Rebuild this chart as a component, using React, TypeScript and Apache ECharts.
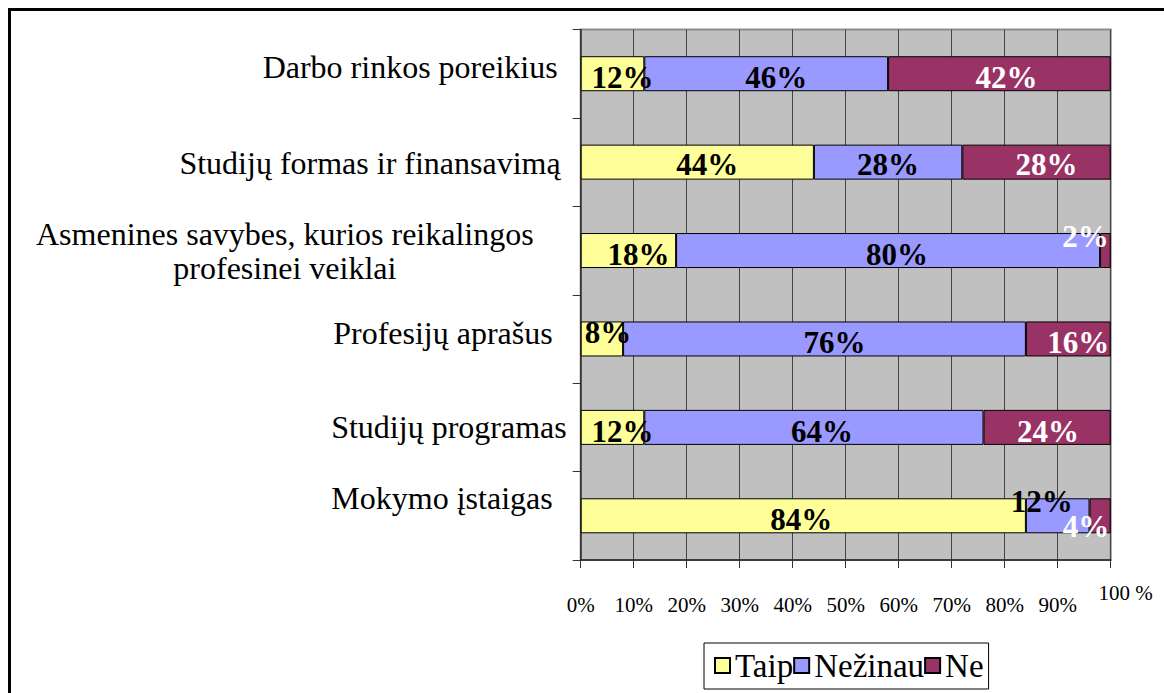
import React, { useEffect, useRef } from "react";
import * as echarts from "echarts";

const categories = [
  "Darbo rinkos poreikius",
  "Studijų formas ir finansavimą",
  "Asmenines savybes, kurios reikalingos\nprofesinei veiklai",
  "Profesijų aprašus",
  "Studijų programas",
  "Mokymo įstaigas",
];
const seriesNames = ["Taip", "Nežinau", "Ne"];
const taip = [12, 44, 18, 8, 12, 84];
const nezinau = [46, 28, 80, 76, 64, 12];
const ne = [42, 28, 2, 16, 24, 4];
const xTickLabels = ["0%", "10%", "20%", "30%", "40%", "50%", "60%", "70%", "80%", "90%", "100 %"];

// label styling (positions only, not data)
const taipLabelOffsets = [[10, 4], [10, 2], [10, 3.5], [6, -6.5], [10, 4], [-2, 4]];
const nezLabelOffsets = [[10, 4], [0, 2], [9, 3.5], [10, 4], [8, 4], [-16, -14]];
const neLabelOffsets = [[7, 4], [10, 2], [-20, -14.5], [10, 3.5], [1, 4], [-14, 11]];
// [top, right, bottom] padding for category labels
const catPads = [[0, 10, 13], [2, 7, 0], [0, 34, 0], [0, 15, 12], [0, 1, 0], [0, 15, 36]];

const FONT = "'Times New Roman', 'Liberation Serif', serif";
const COLORS = ["#FFFF99", "#9999FF", "#993366"];

export default function App() {
  const ref = useRef<HTMLDivElement>(null);
  useEffect(() => {
    if (!ref.current) return;
    const chart = echarts.init(ref.current, null, { renderer: "svg" });

    const rich: any = {};
    catPads.forEach((p, i) => {
      if (i === 2) {
        rich["c2"] = { fontSize: 32, fontFamily: FONT, color: "#000", lineHeight: 34, align: "center", padding: [p[0], p[1], p[2], 0] };
      } else {
        rich["c" + i] = { fontSize: 32, fontFamily: FONT, color: "#000", lineHeight: 34, padding: [p[0], p[1], p[2], 0] };
      }
    });

    const mk = (vals: number[], offs: number[][], idx: number, labelColor: string) => ({
      name: seriesNames[idx],
      type: "bar",
      stack: "total",
      barWidth: 35,
      itemStyle: { color: COLORS[idx], borderColor: "#000", borderWidth: 1 },
      label: {
        show: true,
        position: "inside",
        formatter: "{c}%",
        fontSize: 31,
        fontWeight: "bold",
        fontFamily: FONT,
        color: labelColor,
      },
      data: vals.map((v, i) => ({ value: v, label: { offset: offs[i] } })),
    });

    chart.setOption({
      animation: false,
      textStyle: { fontFamily: FONT },
      graphic: [
        {
          type: "rect",
          shape: { x: 1.5, y: 1.5, width: 3000, height: 3000 },
          style: { fill: "none", stroke: "#000", lineWidth: 3 },
          silent: true,
        },
      ],
      grid: {
        left: 572.7,
        top: 21.5,
        width: 530,
        height: 530.5,
        show: true,
        backgroundColor: "#C0C0C0",
        borderColor: "#8c8c8c",
        borderWidth: 2,
      },
      legend: {
        data: seriesNames,
        left: 696,
        top: 635,
        orient: "horizontal",
        icon: "rect",
        itemWidth: 15,
        itemHeight: 15,
        itemGap: 0,
        padding: [6, 5, 7, 10],
        borderColor: "#000",
        borderWidth: 1,
        backgroundColor: "#fff",
        textStyle: { fontSize: 33, fontFamily: FONT, color: "#000" },
      },
      xAxis: {
        type: "value",
        min: 0,
        max: 100,
        interval: 10,
        axisLine: { show: true, lineStyle: { color: "#222", width: 1.5 } },
        axisTick: { show: true, length: 8, lineStyle: { color: "#333", width: 1 } },
        splitLine: { show: true, lineStyle: { color: "#444", width: 1 } },
        axisLabel: {
          margin: 22.5,
          fontSize: 21,
          fontFamily: FONT,
          color: "#000",
          formatter: (v: number) => {
            const t = xTickLabels[Math.round(v / 10)];
            return v === 100 ? "{u|" + t + "}" : "{n|" + t + "}";
          },
          rich: {
            n: { fontSize: 21, fontFamily: FONT, color: "#000", padding: [12, 0, 0, 0] },
            u: { fontSize: 21, fontFamily: FONT, color: "#000", padding: [0, 0, 0, 30] },
          },
        },
      },
      yAxis: {
        type: "category",
        data: categories,
        inverse: true,
        axisLine: { show: true, lineStyle: { color: "#333", width: 1.5 } },
        axisTick: { show: true, length: 8, lineStyle: { color: "#333", width: 1 } },
        splitLine: { show: false },
        axisLabel: {
          margin: 13,
          fontSize: 32,
          lineHeight: 34,
          fontFamily: FONT,
          color: "#000",
          formatter: (v: string, i: number) => {
            if (i === 2) {
              const lines = v.split("\n");
              return lines.map((l) => "{c2|" + l + "}").join("\n");
            }
            return "{c" + i + "|" + v + "}";
          },
          rich,
        },
      },
      series: [
        mk(taip, taipLabelOffsets, 0, "#000"),
        mk(nezinau, nezLabelOffsets, 1, "#000"),
        mk(ne, neLabelOffsets, 2, "#fff"),
      ],
    });
    return () => chart.dispose();
  }, []);
  return (
    <div
      ref={ref}
      style={{ position: "fixed", left: 8, top: 8, width: 1156, height: 685, background: "#fff" }}
    />
  );
}
